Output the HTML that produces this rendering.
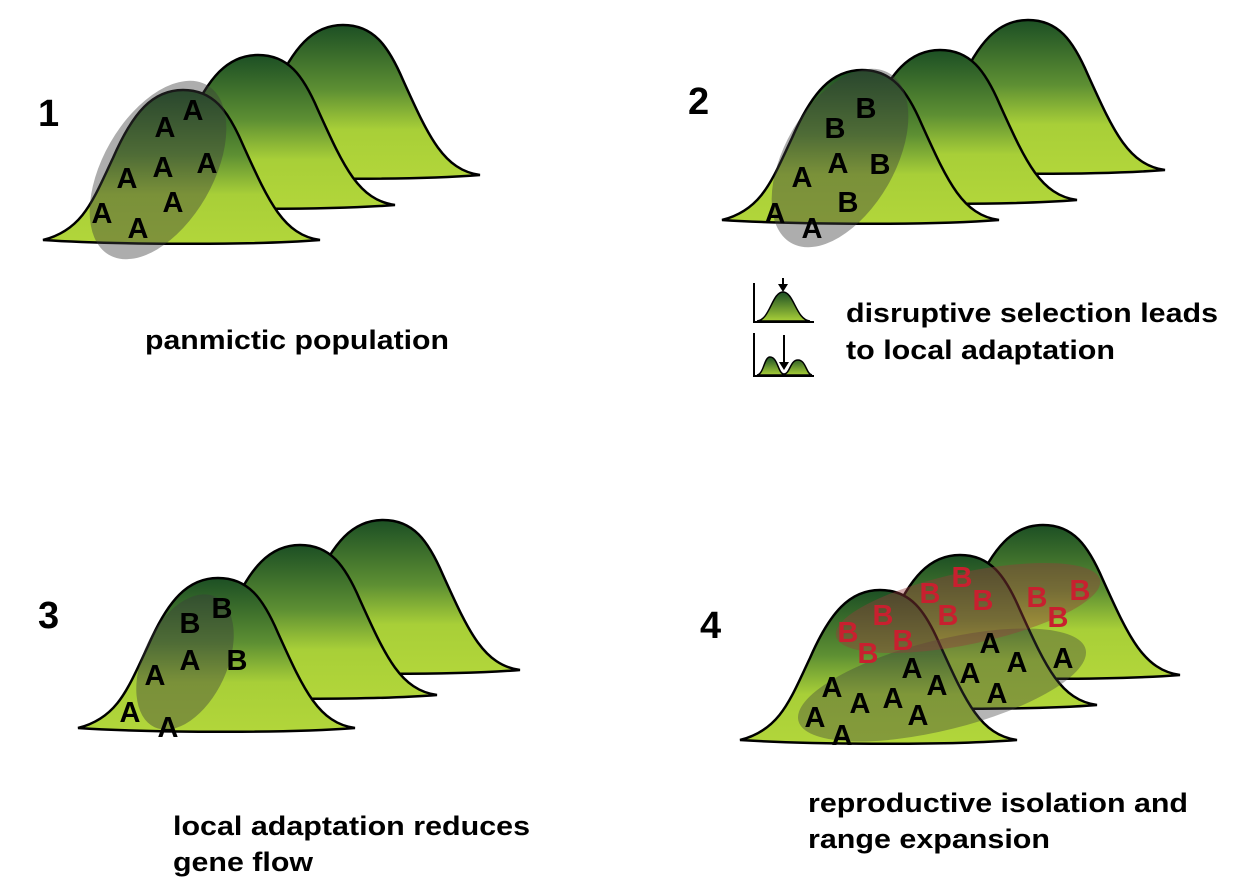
<!DOCTYPE html>
<html><head><meta charset="utf-8"><style>
body{margin:0;background:#fff;}
svg{display:block;font-family:"Liberation Sans",Arial,sans-serif;font-weight:bold;}
</style></head><body>
<svg id="s" width="1241" height="895" viewBox="0 0 1241 895">
<defs>
<linearGradient id="g" x1="0" y1="0" x2="0" y2="1">
<stop offset="0" stop-color="#1c4f24"/><stop offset="0.42" stop-color="#5d8f33"/><stop offset="0.68" stop-color="#a8cf38"/><stop offset="1" stop-color="#b2d63a"/>
</linearGradient>
<linearGradient id="gs" x1="0" y1="0" x2="0" y2="1"><stop offset="0" stop-color="#1c4f24"/><stop offset="1" stop-color="#a8cf38"/></linearGradient>
</defs>
<g id="hills"></g>
<g id="overlays"></g>
<g id="labels">
<text x="38" y="126" font-size="38">1</text>
<text x="688" y="114" font-size="38">2</text>
<text x="38" y="628" font-size="38">3</text>
<text x="700" y="638" font-size="38">4</text>
<text x="145" y="349" font-size="27" textLength="304" lengthAdjust="spacingAndGlyphs">panmictic population</text>
<text x="846" y="322" font-size="27" textLength="372" lengthAdjust="spacingAndGlyphs">disruptive selection leads</text>
<text x="846" y="359" font-size="27" textLength="269" lengthAdjust="spacingAndGlyphs">to local adaptation</text>
<text x="173" y="835" font-size="27" textLength="357" lengthAdjust="spacingAndGlyphs">local adaptation reduces</text>
<text x="173" y="871" font-size="27" textLength="140" lengthAdjust="spacingAndGlyphs">gene flow</text>
<text x="808" y="812" font-size="27" textLength="380" lengthAdjust="spacingAndGlyphs">reproductive isolation and</text>
<text x="808" y="848" font-size="27" textLength="242" lengthAdjust="spacingAndGlyphs">range expansion</text>
</g>
<g id="mini">
<path d="M754 283 V322 H814" stroke="#000" stroke-width="2" fill="none"/>
<path d="M757 321 C770 320 772 292 783 292 C794 292 796 320 810 321 Z" fill="url(#gs)" stroke="#000" stroke-width="1.5"/>
<path d="M783 278 V290" stroke="#000" stroke-width="2"/><path d="M778 284 L783 292 L788 284Z" fill="#000"/>
<path d="M754 333 V376 H814" stroke="#000" stroke-width="2" fill="none"/>
<path d="M757 375 C764 374 764 357 770 357 C778 357 778 374 784 374 C790 374 790 360 798 360 C806 360 806 374 812 375 Z" fill="url(#gs)" stroke="#000" stroke-width="1.5"/>
<path d="M784 335 V368" stroke="#000" stroke-width="2"/><path d="M779 362 L784 370 L789 362Z" fill="#000"/>
</g>
<g id="letters"></g>
</svg>
<script>
const NS="http://www.w3.org/2000/svg";
const hillPeaks=[[[343,25],[258,55],[183,90]],[[1028,20],[940,50],[862,70]],[[383,520],[300,545],[218,578]],[[1043,525],[960,555],[880,590]]];
function hillPath(px,py){
const P=(dx,dy)=>`${px+dx},${py+dy}`;
return `M${P(-140,150)} C${P(-100,140)} ${P(-90,110)} ${P(-70,68)} C${P(-50,22)} ${P(-30,0)} ${P(0,0)} C${P(30,0)} ${P(45,20)} ${P(60,55)} C${P(85,110)} ${P(100,145)} ${P(137,150)} C${P(60,156)} ${P(-80,154)} ${P(-140,150)} Z`;}
const hg=document.getElementById('hills');
hillPeaks.forEach((p,pi)=>p.forEach((h,hi)=>{
const e=document.createElementNS(NS,'path');
e.setAttribute('d',hillPath(h[0],h[1]));
e.setAttribute('fill','url(#g)');e.setAttribute('stroke','#000');e.setAttribute('stroke-width','2.5');


hg.appendChild(e);}));
const ov=document.getElementById('overlays');
const blobs=[
[158,170,55,98,30,'rgba(60,60,60,0.42)'],
[840,158,55,98,30,'rgba(60,60,60,0.42)'],
[185,662,42,72,25,'rgba(60,60,60,0.42)'],
[942,685,148,45,-14,'rgba(60,60,60,0.38)'],
[968,608,135,36,-12,'rgba(150,60,60,0.42)']];
blobs.forEach(b=>{const e=document.createElementNS(NS,'ellipse');
e.setAttribute('cx',b[0]);e.setAttribute('cy',b[1]);e.setAttribute('rx',b[2]);e.setAttribute('ry',b[3]);
e.setAttribute('transform',`rotate(${b[4]} ${b[0]} ${b[1]})`);e.setAttribute('fill',b[5]);


ov.appendChild(e);});
const blackA=[[193,110],[165,127],[207,163],[163,167],[127,178],[173,202],[102,213],[138,228],
[838,163],[802,177],[775,213],[812,228],
[190,660],[155,675],[130,712],[168,727],
[990,643],[1017,662],[1063,658],[970,673],[997,693],[912,668],[937,685],[893,698],[860,703],[832,687],[815,717],[918,715],[842,735]];
const blackB=[[866,108],[835,128],[880,164],[848,202],[222,608],[190,623],[237,660]];
const redB=[[962,577],[930,593],[883,615],[848,632],[983,600],[948,615],[903,640],[868,653],[1037,597],[1080,590],[1058,617]];
const lg=document.getElementById('letters');
function addL(x,y,t,c){const e=document.createElementNS(NS,'text');e.setAttribute('x',x);e.setAttribute('y',y+10);
e.setAttribute('text-anchor','middle');
e.setAttribute('font-size','29');e.setAttribute('fill',c);e.textContent=t;


lg.appendChild(e);}
blackA.forEach(p=>addL(p[0],p[1],'A','#000'));
blackB.forEach(p=>addL(p[0],p[1],'B','#000'));
redB.forEach(p=>addL(p[0],p[1],'B','#c8202f'));
</script>
</body></html>
